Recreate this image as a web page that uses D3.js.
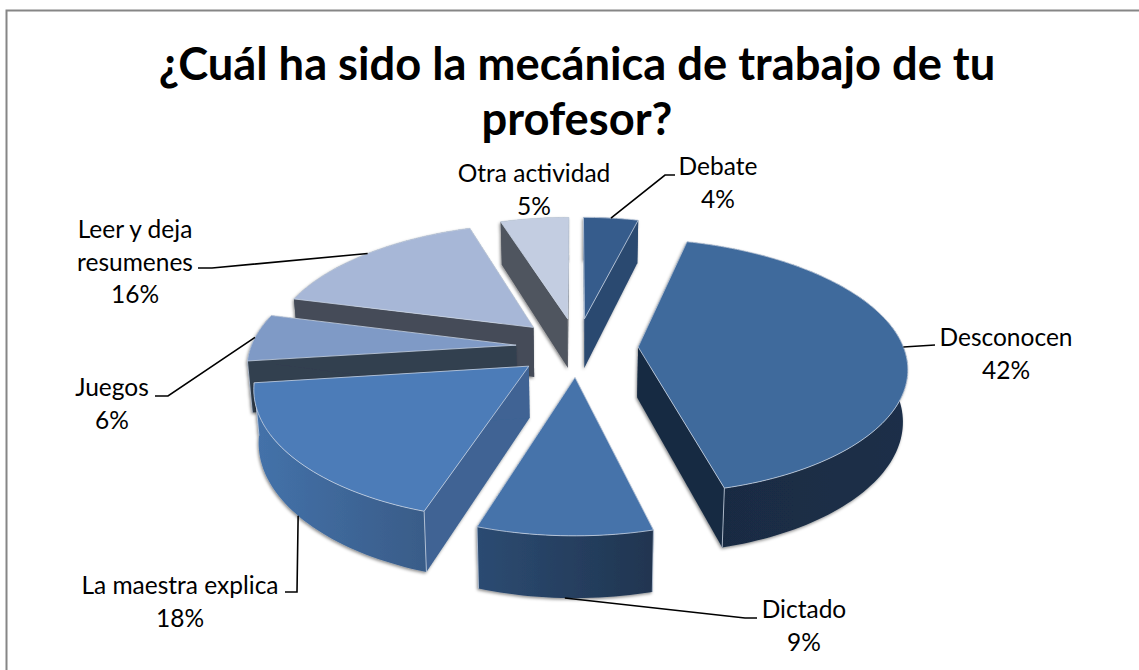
<!DOCTYPE html>
<html><head><meta charset="utf-8">
<script src="https://cdn.jsdelivr.net/npm/d3@7"></script>
<style>html,body{margin:0;padding:0;background:#fff;overflow:hidden}svg{display:block}text{font-family:Lato,"Open Sans",sans-serif;fill:#000}</style>
</head><body><svg id="c" width="1139" height="670"></svg>
<script>
const titleLines = ["¿Cuál ha sido la mecánica de trabajo de tu", "profesor?"];
const categories = ["Debate","Desconocen","Dictado","La maestra explica","Juegos","Leer y deja resumenes","Otra actividad"];
const values = [4,42,9,18,6,16,5];
const labelLines = [["Debate"],["Desconocen"],["Dictado"],["La maestra explica"],["Juegos"],["Leer y deja","resumenes"],["Otra actividad"]];
const topColors = ["#365c8c","#3f6a9c","#4673aa","#4c7cb8","#7f9ac6","#a7b7d7","#c3cde1"];
const radialColors = ["#2b4a70","#182b42","#2b4a70","#3f6494","#333f50","#454c59","#50555f"];
const wallStart = ["#2b4a70","#1b2f48","#2c4b72","#4472aa","#333f50","#454c59","#50555f"];
const wallEnd = ["#2b4a70","#192b42","#203550","#395c88","#333f50","#454c59","#50555f"];
const labelX = [718,1006,804,180,112,135,534];
const labelY = [175,346,618,594,396,238,182];
const elbowX = [665,935,745,297,168,212,null];
const elbowY = [175,345,618,592,396,268,null];
const tailX = [675,935,757,285,155,198,null];
const anchorZ = [0,0,1,1,0,0,0];

const W=1139,H=670,cx=577,cy=347,R=276,ry=0.48,k=0.15,a=0.94,depth=54,explode=65,barrel=0.012;
const svg=d3.select("#c");
const defs=svg.append("defs");
const f=defs.append("filter").attr("id","sh").attr("x","-10%").attr("y","-10%").attr("width","120%").attr("height","125%");
f.append("feDropShadow").attr("dx",-1).attr("dy",1.5).attr("stdDeviation",1.6).attr("flood-color","#000").attr("flood-opacity",.45);

svg.append("rect").attr("x",6.5).attr("y",10.5).attr("width",1200).attr("height",700).attr("fill","#fff").attr("stroke","#868686").attr("stroke-width",2);

svg.selectAll("text.title").data(titleLines).join("text").attr("class","title")
 .attr("x",577).attr("y",(d,i)=>80+i*55).attr("text-anchor","middle").attr("font-size",45.3).attr("font-weight",700).text(d=>d);

function proj(wx,wy,z){
  const s=a/(1-k*wy/R), sh=1-0.015*z, n=wx/R;
  return [cx+wx*(1+barrel*n*n)*s*sh, cy+wy*ry*s+z*depth*s];
}
const pie=d3.pie().sort(null).value(d=>d)(values);
const line=d3.line();
const slices=pie.map((p,i)=>{
  const mid=(p.startAngle+p.endAngle)/2;
  const ox=explode*Math.sin(mid), oy=-explode*Math.cos(mid);
  const rim=t=>[ox+R*Math.sin(t), oy-R*Math.cos(t)];
  const steps=d3.range(0,1.0001,1/Math.max(8,Math.round((p.endAngle-p.startAngle)*40)));
  const angs=steps.map(u=>p.startAngle+u*(p.endAngle-p.startAngle));
  return {i,p,mid,ox,oy,rim,angs};
});
const order=slices.slice().sort((a,b)=>{
  const ya=a.oy+R*0.5*Math.cos(Math.PI-a.mid), yb=b.oy+R*0.5*Math.cos(Math.PI-b.mid);
  return ya-yb;
});
slices.forEach(s=>{
  defs.append("linearGradient").attr("id","w"+s.i).call(g=>{
    g.append("stop").attr("offset",0).attr("stop-color",s.mid>Math.PI?wallStart[s.i]:wallEnd[s.i]);
    g.append("stop").attr("offset",1).attr("stop-color",s.mid>Math.PI?wallEnd[s.i]:wallStart[s.i]);
  });
});
const edge="#c6d2e2";
order.forEach(s=>{
  const g=svg.append("g");
  const shadow=g.append("g").attr("filter","url(#sh)");
  const A=[s.ox,s.oy];
  const topArc=s.angs.map(t=>{const r=s.rim(t);return proj(r[0],r[1],0)});
  const botArc=s.angs.map(t=>{const r=s.rim(t);return proj(r[0],r[1],1)});
  const a0=proj(A[0],A[1],0), a1=proj(A[0],A[1],1);
  const first=s.rim(s.angs[0]), last=s.rim(s.angs[s.angs.length-1]);
  [first,last].forEach(r=>{
    shadow.append("path").attr("d",line([a0,proj(r[0],r[1],0),proj(r[0],r[1],1),a1])+"Z").attr("fill",radialColors[s.i]);
  });
  shadow.append("path").attr("d",line(topArc.concat(botArc.slice().reverse()))+"Z").attr("fill","url(#w"+s.i+")");
  [first,last].forEach(r=>{
    if(r[1]>0) g.append("path").attr("d",line([proj(r[0],r[1],0),proj(r[0],r[1],1)])).attr("stroke",edge).attr("stroke-width",.8).attr("fill","none");
  });
  g.append("path").attr("d",line([a0].concat(topArc))+"Z").attr("fill",topColors[s.i]).attr("stroke",edge).attr("stroke-width",.8).attr("stroke-linejoin","round");
});

slices.forEach(s=>{
  if(elbowX[s.i]===null) return;
  const r=s.rim(s.mid), p=proj(r[0],r[1],anchorZ[s.i]);
  svg.append("path").attr("d",line([p,[elbowX[s.i],elbowY[s.i]],[tailX[s.i],elbowY[s.i]]]))
    .attr("fill","none").attr("stroke","#000").attr("stroke-width",1.6);
});
slices.forEach(s=>{
  const lines=labelLines[s.i].concat([values[s.i]+"%"]);
  svg.append("g").selectAll("text").data(lines).join("text")
    .attr("x",labelX[s.i]).attr("y",(d,j)=>labelY[s.i]+j*32.7).attr("text-anchor","middle").attr("font-size",24.5).text(d=>d);
});
</script></body></html>
